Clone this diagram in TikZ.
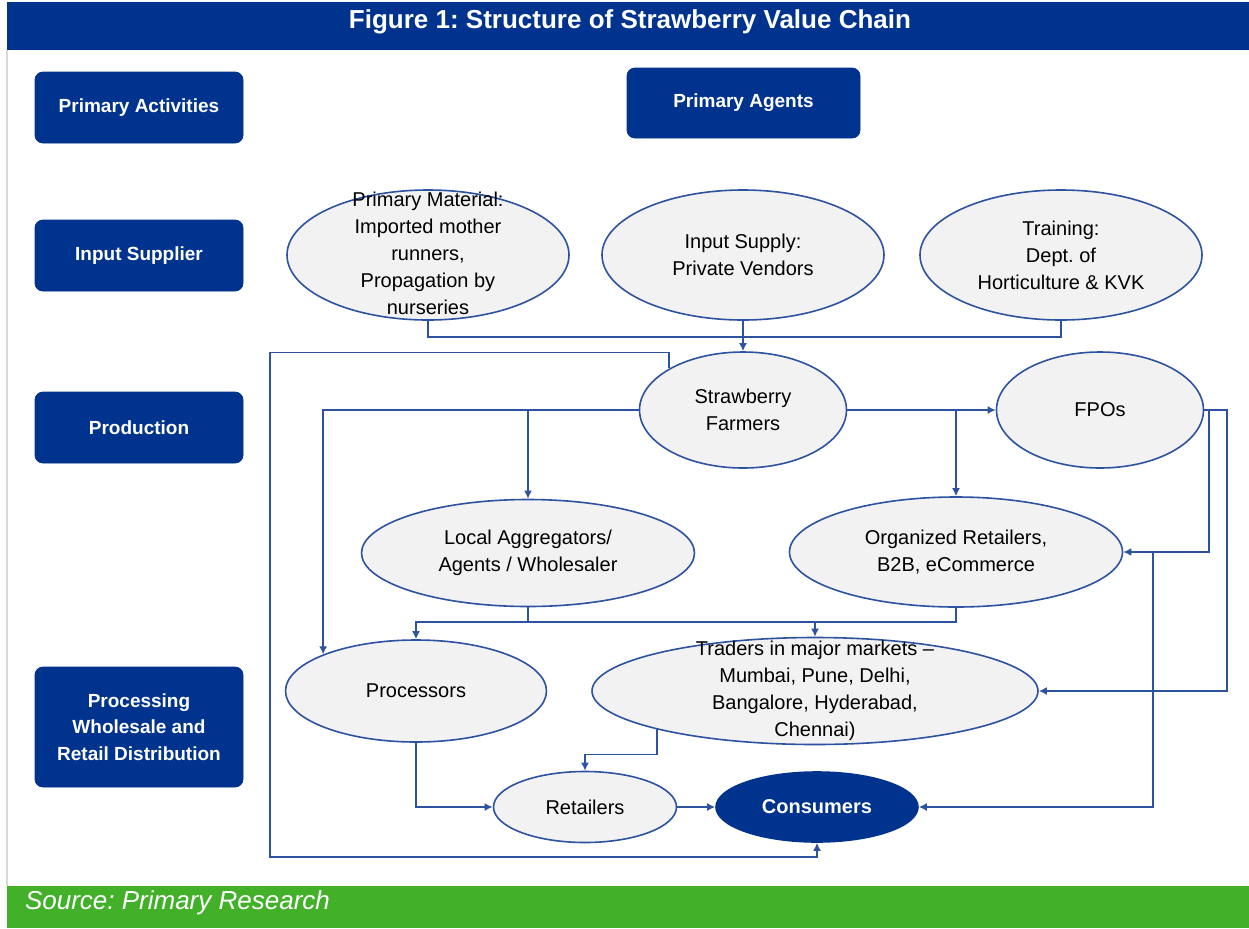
\documentclass[tikz,border=0pt]{standalone}
\usepackage{fontspec}
\setmainfont{Liberation Sans}
\usetikzlibrary{arrows.meta,shapes.geometric}
\definecolor{navy}{RGB}{0,51,141}
\definecolor{linkblue}{RGB}{44,82,160}
\definecolor{agentfill}{RGB}{242,242,242}
\definecolor{srcgreen}{RGB}{67,176,42}
\frenchspacing
\newcommand{\spill}[1]{\smash{\raisebox{-0.25em}{\begin{tabular}{@{}c@{}}#1\end{tabular}}}}

\begin{document}
\begin{tikzpicture}[x=0.5pt,y=-0.5pt,
  stage/.style={rectangle,rounded corners=4pt,fill=navy,draw=navy,text=white,minimum width=104pt,minimum height=35.5pt,inner sep=0pt,align=center,font=\fontsize{9.5}{13.3}\selectfont\bfseries},
  agent/.style={ellipse,draw=linkblue,fill=agentfill,line width=0.8pt,inner sep=0pt,align=center,font=\fontsize{10}{13.5}\selectfont},
  link/.style={draw=linkblue,line width=0.9pt},
  flow/.style={link,-{Latex[length=4pt,width=4pt]}}]
\useasboundingbox (0,0) rectangle (1249,928);
\fill[white] (0,0) rectangle (1249,928);
\fill[navy] (7,2) rectangle (1249,50);
\draw[gray!30,line width=0.8pt] (7,50) -- (7,886);
\fill[srcgreen] (7,886) rectangle (1249,928);
\node[text=white,font=\fontsize{13}{15}\selectfont\bfseries] (title) at (630,22) {Figure 1: Structure of Strawberry Value Chain};
\node[text=white,anchor=west,font=\fontsize{13}{15}\selectfont\itshape] (source) at (18,903) {Source: Primary Research};

\node[stage] (activities) at (139,107.5) {Primary Activities};
\node[stage] (input) at (139,255.5) {Input Supplier};
\node[stage] (production) at (139,427.5) {Production};
\node[stage,minimum height=60pt] (processing) at (139,727) {Processing\\Wholesale and\\Retail Distribution};
\node[stage,minimum width=116.5pt,minimum height=35pt] (agents) at (743.5,103) {Primary Agents};

\node[agent,minimum width=141pt,minimum height=65pt] (material) at (428,255) {\spill{Primary Material:\\Imported mother\\runners,\\Propagation by\\nurseries}};
\node[agent,minimum width=141pt,minimum height=65pt] (supply) at (743,255) {Input Supply:\\Private Vendors};
\node[agent,minimum width=141pt,minimum height=65pt] (training) at (1061,255) {Training:\\Dept. of\\Horticulture \& KVK};
\node[agent,minimum width=103.5pt,minimum height=58pt] (farmers) at (743,410) {Strawberry\\Farmers};
\node[agent,minimum width=103.5pt,minimum height=58pt] (fpo) at (1100,410) {FPOs};
\node[agent,minimum width=166.5pt,minimum height=53.5pt] (aggregators) at (528,553) {Local Aggregators/\\Agents / Wholesaler};
\node[agent,minimum width=166.5pt,minimum height=55pt] (organized) at (956,552) {Organized Retailers,\\B2B, eCommerce};
\node[agent,minimum width=130.5pt,minimum height=51pt] (processors) at (416,691) {Processors};
\node[agent,minimum width=223pt,minimum height=53.5pt] (traders) at (815,691) {\spill{Traders in major markets –\\Mumbai, Pune, Delhi,\\Bangalore, Hyderabad,\\Chennai)}};
\node[agent,minimum width=91.5pt,minimum height=35.5pt] (retailers) at (585,807) {Retailers};
\node[agent,fill=navy,draw=navy,text=white,font=\fontsize{10}{13.5}\selectfont\bfseries,minimum width=101pt,minimum height=35pt] (consumers) at (817,807) {Consumers};

\coordinate (loop) at (270,857);
\coordinate (bus) at (528,622);
\coordinate (fpoin) at (1209,552);
\coordinate (fpoout) at (1227,691);
\coordinate (direct) at (1153,552);

\draw[link] (material.south) -- ++(0,16) -| (training.south);
\draw[flow] (supply.south) -- (farmers.north);
\draw[flow] (farmers.north west) -- ++(0,-16) -| (loop) -| (consumers.south);
\draw[flow] (farmers.west) -| (processors.north west);
\draw[flow] (farmers.west -| aggregators.north) -- (aggregators.north);
\draw[flow] (farmers.east) -- (fpo.west);
\draw[flow] (farmers.east -| organized.north) -- (organized.north);
\draw[link] (aggregators.south) -- (bus) -| (organized.south);
\draw[flow] (bus) -| (processors.north);
\draw[flow] (bus -| traders.north) -- (traders.north);
\draw[flow] (fpo.east) -| (fpoin) -- (organized.east);
\draw[flow] (fpo.east) -| (fpoout) -- (traders.east);
\draw[flow] (direct) |- (consumers.east);
\draw[flow] (traders.south west) -- ++(0,25) -| (retailers.north);
\draw[flow] (processors.south) |- (retailers.west);
\draw[flow] (retailers) -- (consumers);
\end{tikzpicture}
\end{document}
